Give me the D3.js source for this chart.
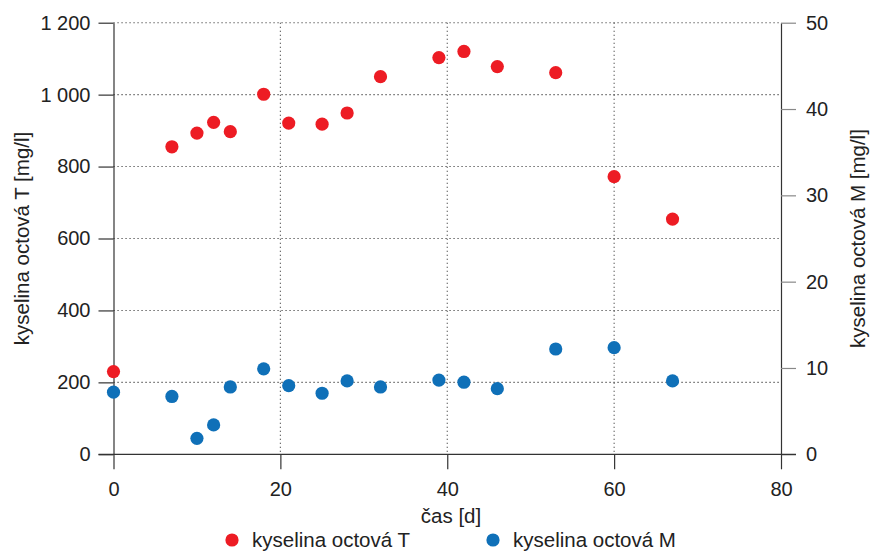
<!DOCTYPE html>
<html>
<head>
<meta charset="utf-8">
<script src="https://cdn.jsdelivr.net/npm/d3@7"></script>
<style>
  body { margin: 0; background: #fff; }
  svg text { font-family: "Liberation Sans", Arial, sans-serif; fill: #222; }
</style>
</head>
<body>
<div id="wrapper"></div>
<script>
// values
var days = [0, 7, 10, 12, 14, 18, 21, 25, 28, 32, 39, 42, 46, 53, 60, 67];
var acidT = [230, 855, 893, 923, 897, 1001, 921, 918, 949, 1050, 1103, 1120, 1078, 1061, 772, 654];
var acidM = [7.2, 6.7, 1.85, 3.4, 7.8, 9.9, 7.95, 7.07, 8.5, 7.8, 8.6, 8.35, 7.6, 12.2, 12.35, 8.5];
var xTicks = [0, 20, 40, 60, 80];
var leftTicks = [0, 200, 400, 600, 800, 1000, 1200];
var rightTicks = [0, 10, 20, 30, 40, 50];
var seriesNames = ["kyselina octová T", "kyselina octová M"];
var seriesColors = ["#ed1c24", "#0f70b8"];

var dimension = {
    width: 871,
    height: 552,
    margin: { top: 22.7, left: 113.5, bottom: 97.7, right: 90 }
}
dimension.boundedWidth = dimension.width - dimension.margin.left - dimension.margin.right;
dimension.boundedHeight = dimension.height - dimension.margin.top - dimension.margin.bottom;

const svg = d3.select("#wrapper")
    .append("svg")
    .attr("width", dimension.width)
    .attr("height", dimension.height);

const bounded = svg.append("g")
    .attr("transform", `translate(${dimension.margin.left},${dimension.margin.top})`);

const xScaler = d3.scaleLinear().domain([0, 80]).range([0, dimension.boundedWidth]);
const yLeft = d3.scaleLinear().domain([0, 1200]).range([dimension.boundedHeight, 0]);
const yRight = d3.scaleLinear().domain([0, 50]).range([dimension.boundedHeight, 0]);

const spaced = d => d3.format(",")(d).replace(",", " ");

// dotted grid
const grid = bounded.append("g")
    .attr("stroke", "#333")
    .attr("stroke-width", 1.1)
    .attr("stroke-dasharray", "1.1,2.9");
grid.selectAll("line.h")
    .data(leftTicks.filter(d => d > 0))
    .enter().append("line")
    .attr("x1", 0).attr("x2", dimension.boundedWidth)
    .attr("y1", d => yLeft(d)).attr("y2", d => yLeft(d));
grid.selectAll("line.v")
    .data(xTicks.filter(d => d > 0 && d < 80))
    .enter().append("line")
    .attr("y1", 0).attr("y2", dimension.boundedHeight)
    .attr("x1", d => xScaler(d)).attr("x2", d => xScaler(d));

// axes
const leftAxis = bounded.append("g")
    .call(d3.axisLeft(yLeft).tickValues(leftTicks).tickSize(15).tickSizeOuter(0).tickPadding(8).tickFormat(spaced));
const rightAxis = bounded.append("g")
    .attr("transform", `translate(${dimension.boundedWidth},0)`)
    .call(d3.axisRight(yRight).tickValues(rightTicks).tickSize(15).tickSizeOuter(0).tickPadding(10));
const bottomAxis = bounded.append("g")
    .attr("transform", `translate(0,${dimension.boundedHeight})`)
    .call(d3.axisBottom(xScaler).tickValues(xTicks).tickSize(15).tickSizeOuter(0).tickPadding(13));

[leftAxis, rightAxis, bottomAxis].forEach(a => {
    a.selectAll("text").style("font-size", "20px").attr("fill", "#222");
    a.selectAll("line").attr("stroke", "#333").attr("stroke-width", 1.2);
    a.select(".domain").attr("stroke", "#333").attr("stroke-width", 1.2);
});
rightAxis.selectAll(".tick line").attr("stroke", "#888");
bottomAxis.select(".domain").remove();
bounded.append("line")
    .attr("x1", xScaler(0) - 15).attr("x2", xScaler(80) + 15)
    .attr("y1", yLeft(0)).attr("y2", yLeft(0))
    .attr("stroke", "#333").attr("stroke-width", 1.2);

// axis titles
svg.append("text")
    .attr("transform", `translate(29,${dimension.margin.top + dimension.boundedHeight / 2}) rotate(-90)`)
    .attr("text-anchor", "middle")
    .style("font-size", "20.5px")
    .text("kyselina octová T [mg/l]");
svg.append("text")
    .attr("transform", `translate(865,${dimension.margin.top + dimension.boundedHeight / 2}) rotate(-90)`)
    .attr("text-anchor", "middle")
    .style("font-size", "20.5px")
    .text("kyselina octová M [mg/l]");
svg.append("text")
    .attr("x", 451).attr("y", 523)
    .attr("text-anchor", "middle")
    .style("font-size", "20.5px")
    .text("čas [d]");

// points
bounded.append("g").selectAll("circle")
    .data(days.map((d, i) => ({ x: d, y: acidT[i] })))
    .enter().append("circle")
    .attr("r", 6.6)
    .attr("cx", d => xScaler(d.x))
    .attr("cy", d => yLeft(d.y))
    .attr("fill", seriesColors[0]);
bounded.append("g").selectAll("circle")
    .data(days.map((d, i) => ({ x: d, y: acidM[i] })))
    .enter().append("circle")
    .attr("r", 6.6)
    .attr("cx", d => xScaler(d.x))
    .attr("cy", d => yRight(d.y))
    .attr("fill", seriesColors[1]);

// legend
const legend = svg.append("g").selectAll("g")
    .data(seriesNames)
    .enter().append("g")
    .attr("transform", (d, i) => `translate(${232 + i * 261},540)`);
legend.append("circle")
    .attr("r", 6.6)
    .attr("fill", (d, i) => seriesColors[i]);
legend.append("text")
    .attr("x", 20).attr("y", 7)
    .style("font-size", "20.5px")
    .text(d => d);
</script>
</body>
</html>
